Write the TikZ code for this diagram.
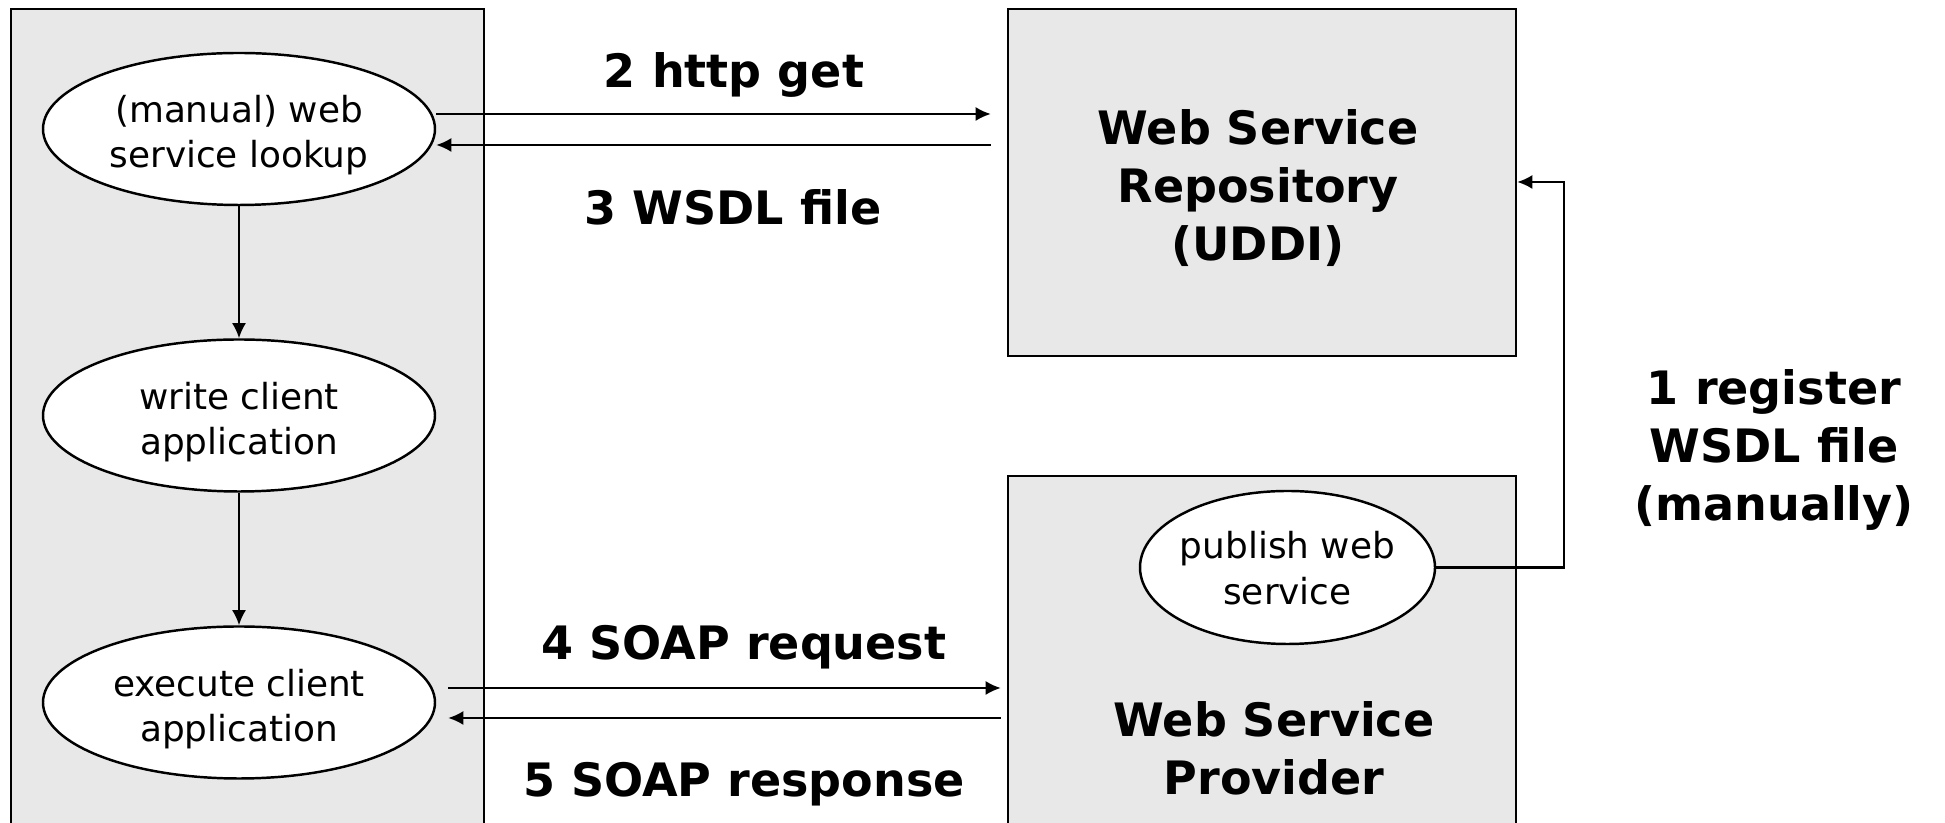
\documentclass[tikz,border=0pt]{standalone}
\usepackage{fontspec}
\setmainfont{DejaVu Sans}
\usetikzlibrary{shapes.geometric,arrows.meta}

\begin{document}
\begin{tikzpicture}[
    box/.style={draw, line width=.7pt, fill=black!9, inner sep=0},
    task/.style 2 args={draw, ellipse, line width=.7pt, fill=white, inner sep=0, minimum width=3.92cm, minimum height=1.52cm,
        label={[font=\fontsize{10.2}{12.9}\selectfont, align=center, yshift=#2]center:#1}},
    msg/.style={font=\fontsize{13.1}{16.6}\selectfont\bfseries, align=center},
    arr/.style={line width=.6pt, -{Latex[length=4.3pt,width=4pt]}}
]
\path[use as bounding box, clip] (0,0) rectangle (19.45,8.23);
%boxes
\node[box, minimum width=4.73cm, minimum height=8.64cm] (client) at (2.475,3.82){};
\node[box, minimum width=5.08cm, minimum height=3.47cm] (repo) at (12.62,6.405){};
\node[msg] (repotext) at (12.58,6.35){Web Service\\Repository\\(UDDI)};
\node[box, minimum width=5.08cm, minimum height=3.97cm] (provider) at (12.62,1.485){};
\node[msg] (providertext) at (12.74,.745){Web Service\\Provider};

%client side
\node[task={(manual) web\\service lookup}{-1.8pt}] (lookup) at (2.39,6.94){};
\node[task={write client\\application}{-1.8pt}] (write) at (2.39,4.075){};
\node[task={execute client\\application}{-1.8pt}] (execute) at (2.39,1.205){};
\node[task={publish web\\service}{-.2pt}, minimum width=2.95cm, minimum height=1.53cm] (publish) at (12.875,2.555){};

\draw[arr] (lookup) -- (write);
\draw[arr] (write) -- (execute);

%http get / wsdl
\draw[arr, shorten >=1.6mm] ([yshift=1.5mm]lookup.east) -- ([yshift=1.5mm]lookup.east -| repo.west);
\draw[arr, shorten <=1.6mm] ([yshift=-1.6mm]lookup.east -| repo.west) -- ([yshift=-1.6mm]lookup.east);

%soap
\draw[arr, shorten <=1.2mm, shorten >=.6mm] ([yshift=1.45mm]execute.east) -- ([yshift=1.45mm]execute.east -| provider.west);
\draw[arr, shorten <=.6mm, shorten >=1.2mm] ([yshift=-1.55mm]execute.east -| provider.west) -- ([yshift=-1.55mm]execute.east);

%register
\coordinate (reg) at (15.64,6.41);
\draw[arr] (publish.east) -| (reg) -- (reg -| repo.east);

%labels
\node[msg] (get) at (7.34,7.48){2 http get};
\node[msg] (wsdl) at (7.33,6.16){3 WSDL file};
\node[msg] (request) at (7.44,1.76){4 SOAP request};
\node[msg] (response) at (7.44,.39){5 SOAP response};
\node[msg] (register) at (17.74,3.73){1 register\\WSDL file\\(manually)};

\end{tikzpicture}
\end{document}
